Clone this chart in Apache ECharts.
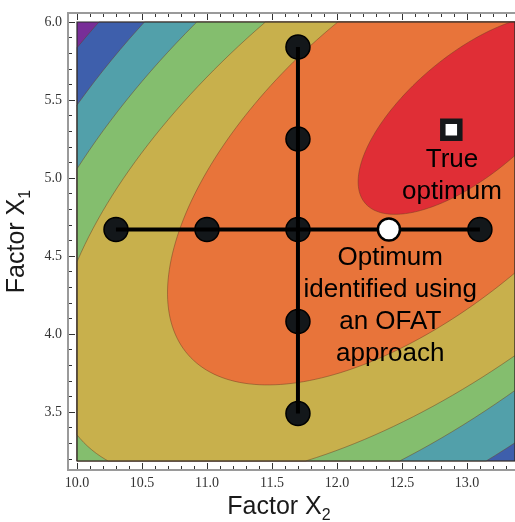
<!DOCTYPE html>
<html><head><meta charset="utf-8">
<script src="https://cdn.jsdelivr.net/npm/echarts@6/dist/echarts.min.js"></script>
<style>html,body{margin:0;padding:0;background:#fff}#c{width:515px;height:522px}</style>
</head><body><div id="c"></div>
<script>
// ---- axes ----
const x2Range = [10.0, 13.37];
const x1Range = [3.186, 6.0];
const x2MajorTicks = [10.0, 10.5, 11.0, 11.5, 12.0, 12.5, 13.0];
const x1MajorTicks = [3.5, 4.0, 4.5, 5.0, 5.5, 6.0];
const x2MinorTicks = [10.0,10.1,10.2,10.3,10.4,10.5,10.6,10.7,10.8,10.9,11.0,11.1,11.2,11.3,11.4,11.5,11.6,11.7,11.8,11.9,12.0,12.1,12.2,12.3,12.4,12.5,12.6,12.7,12.8,12.9,13.0,13.1,13.2,13.3];
const x1MinorTicks = [3.2,3.3,3.4,3.5,3.6,3.7,3.8,3.9,4.0,4.1,4.2,4.3,4.4,4.5,4.6,4.7,4.8,4.9,5.0,5.1,5.2,5.3,5.4,5.5,5.6,5.7,5.8,5.9,6.0];

// ---- response-surface contour bands (lowest level first) ----
const levelColors = ['#782E98', '#3E5FAC', '#52A0AA', '#84BE6E', '#C8B04C', '#E8743A', '#E02E36'];
// region above each contour level (blue .. red) is an ellipse:
// centre (X2, X1) plus two conjugate semi-diameters, in axis units
const contourCentreX2 = [12.654, 12.669, 12.654, 12.712, 12.665, 13.023];
const contourCentreX1 = [5.180, 5.165, 5.177, 5.126, 5.180, 5.404];
const majorDX2 = [3.535, 3.182, 3.005, 2.716, 1.811, 0.807];
const majorDX1 = [2.472, 2.225, 2.101, 1.768, 1.312, 0.5645];
const minorDX2 = [1.572, 1.424, 1.221, 0.990, 0.772, 0.297];
const minorDX1 = [-1.562, -1.414, -1.213, -1.060, -0.740, -0.295];

// ---- OFAT experiment ----
const ofatRowX2 = [10.3, 11.0, 11.7, 12.4, 13.1];   // varying X2 at fixed X1
const ofatRowX1 = 4.67;
const ofatColX1 = [3.49, 4.08, 4.67, 5.25, 5.84];   // varying X1 at fixed X2
const ofatColX2 = 11.7;
const ofatBest = [12.4, 4.67];
const trueOptimum = [12.88, 5.31];

function clipEdge(pts, inside, cut) {
  const out = [];
  for (let i = 0; i < pts.length; i++) {
    const cur = pts[i], prev = pts[(i + pts.length - 1) % pts.length];
    const ci = inside(cur), pi = inside(prev);
    if (ci) { if (!pi) out.push(cut(prev, cur)); out.push(cur); }
    else if (pi) out.push(cut(prev, cur));
  }
  return out;
}
function cutX(c) { return (a, b) => { const t = (c - a[0]) / (b[0] - a[0]); return [c, a[1] + t * (b[1] - a[1])]; }; }
function cutY(c) { return (a, b) => { const t = (c - a[1]) / (b[1] - a[1]); return [a[0] + t * (b[0] - a[0]), c]; }; }
function clipRect(pts) {
  pts = clipEdge(pts, p => p[0] >= x2Range[0], cutX(x2Range[0]));
  pts = clipEdge(pts, p => p[0] <= x2Range[1], cutX(x2Range[1]));
  pts = clipEdge(pts, p => p[1] >= x1Range[0], cutY(x1Range[0]));
  pts = clipEdge(pts, p => p[1] <= x1Range[1], cutY(x1Range[1]));
  return pts;
}

function renderContour(params, api) {
  const k = api.value(2);
  let pts;
  if (k === 0) {
    pts = [[x2Range[0], x1Range[0]], [x2Range[1], x1Range[0]], [x2Range[1], x1Range[1]], [x2Range[0], x1Range[1]]];
  } else {
    const i = k - 1; pts = [];
    for (let d = 0; d < 360; d += 1.5) {
      const t = d * Math.PI / 180, c = Math.cos(t), s = Math.sin(t);
      pts.push([contourCentreX2[i] + c * majorDX2[i] + s * minorDX2[i],
                contourCentreX1[i] + c * majorDX1[i] + s * minorDX1[i]]);
    }
    pts = clipRect(pts);
  }
  if (pts.length < 3) return null;
  return {
    type: 'polygon',
    shape: { points: pts.map(p => api.coord(p)) },
    style: { fill: levelColors[k], stroke: k === 0 ? null : 'rgba(110,60,35,0.6)', lineWidth: 0.8 }
  };
}

function renderFrame(params, api) {
  const r = params.coordSys;
  return {
    type: 'group',
    children: [
      { type: 'rect', shape: { x: r.x, y: r.y, width: r.width, height: r.height },
        style: { fill: null, stroke: '#2a2a2a', lineWidth: 1.2 } },
      { type: 'rect', shape: { x: r.x - 9, y: r.y - 9, width: r.width + 18, height: r.height + 18 },
        style: { fill: null, stroke: '#9a9a9a', lineWidth: 2 } }
    ]
  };
}

const tickLine = { color: '#333', width: 1 };
const labelFont = { fontFamily: 'Liberation Serif', fontSize: 14, color: '#333' };
const nameStyle = {
  fontFamily: 'Liberation Sans', fontSize: 25, color: '#1a1a1a',
  rich: { s: { fontFamily: 'Liberation Sans', fontSize: 16, color: '#1a1a1a', padding: [17, 0, 0, 0] } }
};

function xAx(pos, major, withLabel) {
  const a = {
    type: 'value', min: x2Range[0], max: x2Range[1], position: pos, offset: 9,
    axisLine: { show: false }, splitLine: { show: false },
    axisTick: { show: true, inside: true, length: major ? 7 : 4, customValues: major ? x2MajorTicks : x2MinorTicks, lineStyle: tickLine },
    axisLabel: withLabel ? Object.assign({ show: true, customValues: x2MajorTicks, margin: 6, formatter: v => v.toFixed(1) }, labelFont) : { show: false }
  };
  if (withLabel) {
    a.name = 'Factor X{s|2}'; a.nameLocation = 'middle'; a.nameGap = 21;
    a.nameTextStyle = Object.assign({ padding: [0, 34, 0, 0] }, nameStyle);
  }
  return a;
}
function yAx(major) {
  const a = {
    type: 'value', min: x1Range[0], max: x1Range[1], position: 'left', offset: 9,
    axisLine: { show: false }, splitLine: { show: false },
    axisTick: { show: true, inside: true, length: major ? 7 : 4, customValues: major ? x1MajorTicks : x1MinorTicks, lineStyle: tickLine },
    axisLabel: major ? Object.assign({ show: true, customValues: x1MajorTicks, margin: 6, formatter: v => v.toFixed(1) }, labelFont) : { show: false }
  };
  if (major) {
    a.name = 'Factor X{s|1}'; a.nameLocation = 'middle'; a.nameGap = 28; a.nameRotate = 90;
    a.nameTextStyle = nameStyle;
  }
  return a;
}

const textStyle = { fontFamily: 'Liberation Sans', fontSize: 26, lineHeight: 32, color: '#000', opacity: 1 };

const chart = echarts.init(document.getElementById('c'), null, { renderer: 'canvas' });
chart.setOption({
  animation: false,
  backgroundColor: '#fff',
  grid: { left: 77, top: 22, right: 0, bottom: 61, containLabel: false, outerBoundsMode: 'none' },
  xAxis: [xAx('bottom', true, true), xAx('bottom', false, false), xAx('top', true, false), xAx('top', false, false)],
  yAxis: [yAx(true), yAx(false)],
  series: [
    { type: 'custom', renderItem: renderContour, z: 1, silent: true,
      data: levelColors.map((c, i) => [x2Range[0], x1Range[0], i]) },
    { type: 'line', z: 4, silent: true, symbol: 'none', lineStyle: { color: '#000', width: 4 },
      data: ofatRowX2.map(v => [v, ofatRowX1]) },
    { type: 'line', z: 4, silent: true, symbol: 'none', lineStyle: { color: '#000', width: 4 },
      data: ofatColX1.map(v => [ofatColX2, v]) },
    { type: 'scatter', z: 3, silent: true, symbolSize: 24,
      itemStyle: { color: '#13171a', borderColor: '#000', borderWidth: 1.5, opacity: 1 },
      data: ofatRowX2.filter(v => v !== ofatBest[0]).map(v => [v, ofatRowX1])
            .concat(ofatColX1.filter(v => v !== ofatRowX1).map(v => [ofatColX2, v])) },
    { type: 'scatter', z: 5, silent: true, symbolSize: 22,
      itemStyle: { color: '#fff', borderColor: '#000', borderWidth: 2.5, opacity: 1 },
      data: [ofatBest] },
    { type: 'scatter', z: 5, silent: true, symbol: 'rect', symbolSize: 17,
      itemStyle: { color: '#fff', borderColor: '#16181a', borderWidth: 5.5, opacity: 1 },
      data: [trueOptimum] },
    { type: 'scatter', z: 6, silent: true, symbolSize: 2, itemStyle: { color: 'rgba(0,0,0,0)', opacity: 1 },
      label: Object.assign({ show: true, position: 'inside', align: 'center', verticalAlign: 'middle',
        formatter: 'True\noptimum' }, textStyle),
      data: [[12.885, 5.013]] },
    { type: 'scatter', z: 6, silent: true, symbolSize: 2, itemStyle: { color: 'rgba(0,0,0,0)', opacity: 1 },
      label: Object.assign({ show: true, position: 'inside', align: 'center', verticalAlign: 'middle',
        formatter: 'Optimum\nidentified using\nan OFAT\napproach' }, textStyle),
      data: [[12.41, 4.18]] },
    { type: 'custom', renderItem: renderFrame, z: 7, silent: true, data: [[x2Range[0], x1Range[0]]] }
  ]
});
</script></body></html>
